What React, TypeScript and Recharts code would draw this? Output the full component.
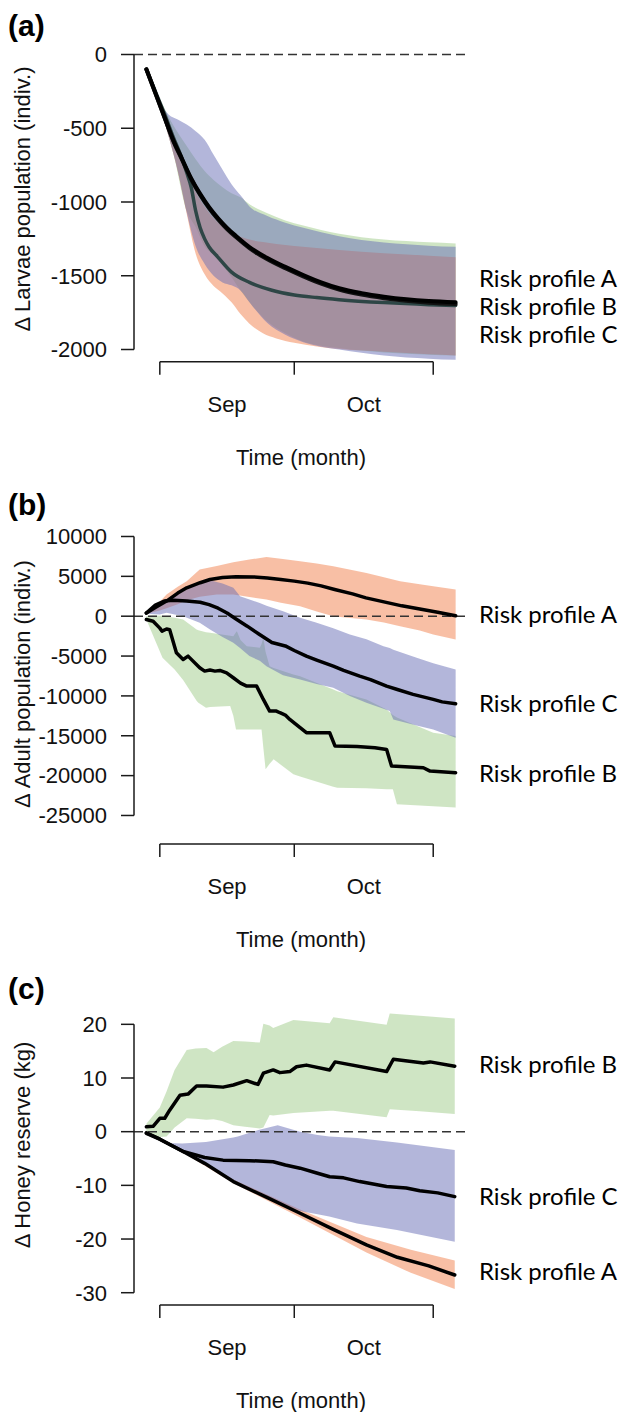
import { ComposedChart, Area, Line, XAxis, YAxis, ReferenceLine } from 'recharts';

// days counted from 1 September; ticks mark month boundaries, labels sit mid-month
const monthTicks = [0, 15, 30, 45.5, 61];
const monthLabels: Record<string, string> = { '15': 'Sep', '45.5': 'Oct' };
const monthEdges = [0, 30, 61];
const xDomain: [number, number] = [-5.76, 68.76];

const orange = '#F17F4B';
const green = '#9FCB89';
const blue = '#676DB5';

// (a) larvae: lines [day, value], bands [day, low, high]
const larvaeTicks = [-2000, -1500, -1000, -500, 0];
const larvaeLineA = [[-3, -100], [-1, -260], [1, -420], [3, -580], [5, -710], [7, -840], [9, -945], [11, -1035], [13, -1110], [15, -1175], [17, -1230], [20, -1305], [24, -1380], [28, -1440], [32, -1495], [36, -1545], [40, -1585], [45, -1618], [50, -1642], [55, -1660], [60, -1672], [66, -1680]];
const larvaeLineC = [[-3, -100], [-1, -262], [1, -424], [3, -586], [5, -716], [7, -846], [9, -952], [11, -1042], [13, -1118], [15, -1183], [17, -1238], [20, -1313], [24, -1389], [28, -1449], [32, -1504], [36, -1554], [40, -1594], [45, -1628], [50, -1652], [55, -1670], [60, -1683], [66, -1692]];
const larvaeLineB = [[-3, -100], [-1, -250], [1, -400], [3, -560], [5, -710], [6, -800], [7, -900], [8, -1060], [9, -1175], [10, -1250], [11, -1305], [13, -1375], [16, -1475], [20, -1545], [25, -1598], [30, -1630], [35, -1648], [40, -1662], [50, -1682], [60, -1696], [66, -1702]];
const larvaeBandA = [[-3, -100, -100], [0, -360, -345], [2, -560, -480], [4, -790, -640], [6, -1080, -790], [8, -1350, -930], [10, -1490, -1030], [12, -1570, -1110], [14, -1620, -1165], [16, -1680, -1205], [18, -1760, -1236], [20, -1825, -1255], [23, -1890, -1272], [26, -1925, -1285], [30, -1955, -1298], [35, -1980, -1312], [40, -1997, -1325], [50, -2015, -1347], [60, -2032, -1364], [66, -2040, -1375]];
const larvaeBandB = [[-3, -100, -100], [0, -360, -300], [3, -670, -480], [6, -1060, -620], [8, -1170, -710], [10, -1300, -790], [12, -1360, -850], [14, -1430, -900], [16, -1510, -940], [18, -1600, -968], [20, -1680, -1015], [24, -1810, -1077], [28, -1890, -1125], [32, -1945, -1160], [40, -1990, -1216], [50, -2020, -1255], [60, -2035, -1273], [66, -2040, -1281]];
const larvaeBandC = [[-3, -100, -100], [0, -360, -320], [2, -560, -408], [4, -790, -440], [6, -1070, -475], [8, -1300, -520], [10, -1420, -578], [12, -1500, -680], [14, -1545, -782], [16, -1565, -880], [18, -1600, -955], [20, -1680, -1030], [24, -1820, -1095], [28, -1900, -1140], [32, -1950, -1175], [40, -2000, -1232], [50, -2040, -1275], [60, -2062, -1296], [66, -2070, -1304]];

// (b) adults
const adultTicks = [-25000, -20000, -15000, -10000, -5000, 0, 5000, 10000];
const adultLineA = [[-3, 400], [-1, 1100], [1.5, 1900], [4, 2900], [6, 3560], [9, 4200], [11.2, 4600], [14, 4850], [17, 4950], [21, 4930], [24, 4800], [27, 4600], [30, 4400], [33, 4150], [36, 3800], [39, 3350], [43, 2800], [46, 2300], [50, 1800], [54, 1300], [58, 900], [62, 500], [66, 50]];
const adultLineC = [[-3, 400], [-1, 1400], [1, 1900], [3, 2000], [6, 1900], [9, 1750], [11, 1450], [13, 1000], [15, 400], [17, -350], [19.5, -1250], [22, -2200], [25, -3300], [28, -3730], [30, -4300], [32.7, -5010], [35, -5500], [38.7, -6270], [41, -6800], [44.6, -7520], [47, -7950], [50.6, -8770], [53, -9200], [56.5, -9810], [61, -10440], [63, -10750], [66, -10980]];
const adultLineB = [[-3, -420], [-1.5, -630], [0, -1500], [0.5, -1880], [1.5, -1600], [2.2, -1700], [3.7, -4590], [5.2, -5430], [6.3, -5010], [8.9, -6470], [10, -6890], [11.2, -6750], [12.3, -6890], [13.4, -6800], [14.9, -7100], [16.4, -7720], [18, -8400], [19.4, -8770], [21.6, -8770], [23.1, -10440], [24.5, -11900], [26, -11900], [26.8, -12110], [28, -12400], [29, -12950], [31.3, -13990], [32.7, -14620], [37.9, -14620], [39.1, -16290], [44, -16350], [48, -16500], [50.6, -16710], [51.7, -18800], [58.8, -19010], [60.3, -19430], [66, -19640]];
const adultBandA = [[-3, 300, 500], [0, 700, 1800], [1.5, 1000, 2720], [4, 1500, 3700], [6, 2000, 4390], [8.9, 2430, 5850], [12.7, 2720, 6300], [16.4, 2720, 6770], [20, 2400, 7100], [23.8, 2090, 7440], [27, 1700, 7200], [31.3, 1250, 6890], [35, 600, 6600], [38.7, 0, 6270], [42, -200, 5900], [46.1, -420, 5430], [50, -800, 4900], [53.6, -1250, 4390], [58, -1800, 4000], [61, -2300, 3760], [66, -2920, 3350]];
const adultBandB = [[-3, -400, 0], [-1.6, -2290, 100], [0.6, -5210, 50], [3.3, -6680, -200], [5.2, -8000, -420], [8.2, -10600, -1670], [8.6, -10860, -1750], [10.3, -11480, -2000], [11.2, -11400, -2090], [15.7, -11270, -2450], [16.4, -12500, -2500], [17, -14200, -2000], [17.2, -14200, -1880], [18, -14200, -3000], [19.4, -14200, -3760], [22.3, -14200, -3970], [22.7, -14200, -3500], [23.1, -16500, -2710], [23.6, -19210, -4500], [24.5, -18500, -6270], [25.4, -17960, -6500], [29.8, -19840, -7300], [31.3, -20100, -7520], [38.7, -21400, -9190], [39.6, -21510, -9400], [46.1, -21600, -10440], [50.6, -21700, -11700], [52, -21720, -12400], [52.9, -23600, -12700], [61, -23850, -14620], [66, -24010, -15040]];
const adultBandC = [[-3, 300, 500], [0, 200, 1500], [1.5, 420, 1900], [5.2, 0, 3100], [8.9, -830, 4200], [11.2, -1670, 4500], [14, -2600, 4100], [16.4, -3340, 3560], [17.9, -4000, 2510], [20, -5000, 2100], [22.3, -5600, 1670], [23.8, -6270, 1300], [27.5, -7400, 630], [31.3, -7930, -200], [35, -8500, -830], [38.7, -8980, -1500], [42.4, -10000, -2300], [46.1, -10860, -2900], [49.9, -11600, -3760], [51.3, -11900, -4000], [52.1, -12950, -4200], [57.3, -13700, -5220], [61, -14200, -5900], [66, -15240, -6680]];

// (c) honey
const honeyTicks = [-30, -20, -10, 0, 10, 20];
const honeyLineA = [[-3, -0.3], [0, -1.4], [5.2, -3.7], [10, -5.9], [16.4, -9.3], [24, -12.3], [31.3, -15.2], [38.7, -18.2], [46.1, -21.1], [53, -23.4], [60, -25.0], [65.8, -26.7]];
const honeyLineB = [[-3, 0.9], [-1.5, 1.0], [0, 2.5], [1.1, 2.5], [2.2, 4.0], [4.5, 6.8], [6.3, 7.0], [8.2, 8.5], [10.4, 8.5], [14.1, 8.3], [16.4, 8.7], [19.4, 9.5], [21.9, 8.8], [23.1, 10.9], [25.3, 11.5], [26.8, 11.0], [29, 11.2], [30.5, 12.1], [32.7, 12.4], [37.9, 11.5], [39.1, 13.0], [50.6, 11.2], [52.1, 13.5], [58.8, 12.8], [60.3, 13.0], [65.8, 12.2]];
const honeyLineC = [[-3, -0.2], [0, -1.4], [5.2, -3.7], [10, -4.8], [14.1, -5.3], [20, -5.4], [25.3, -5.6], [28, -6.2], [31.3, -6.8], [35, -7.7], [37.9, -8.4], [41, -8.6], [44.6, -9.3], [50.6, -10.2], [55, -10.5], [58, -11.0], [62, -11.4], [65.8, -12.1]];
const honeyBandA = [[-3, -0.3, -0.2], [5.2, -3.9, -3.5], [16.4, -9.6, -8.9], [31.3, -16.0, -14.5], [46.1, -22.5, -19.6], [56, -26.3, -22.0], [65.8, -29.3, -24.0]];
const honeyBandB = [[-3, -0.5, 1.5], [0, -1.0, 4.5], [1.5, -0.9, 7.5], [3.3, 0.8, 11.5], [6, 2.5, 15.2], [8, 2.4, 15.5], [10.4, 2.2, 15.6], [12, 2.3, 14.8], [13.9, 2.0, 15.8], [16.4, 1.2, 16.9], [19, 0.9, 16.8], [22.3, 0.6, 16.6], [23.1, 0.8, 20.1], [24.5, 3.1, 19.8], [25.3, 3.0, 19.3], [29.8, 3.5, 20.8], [37.9, 3.9, 20.2], [38.7, 3.9, 21.3], [50.6, 2.7, 19.9], [51.3, 4.2, 22.0], [58, 3.8, 21.6], [65.8, 3.3, 21.1]];
const honeyBandC = [[-3, -0.3, -0.2], [1.5, -2.0, -2.1], [5, -3.8, -2.2], [10.3, -6.0, -1.9], [16.4, -9.0, -1.1], [17.4, -9.4, -0.9], [22, -11.2, 0.3], [26.3, -13.0, 1.2], [31.3, -14.8, 0.0], [35.2, -15.4, -0.6], [37.8, -15.8, -0.9], [44, -17.1, -1.2], [52.9, -18.3, -2.0], [65.8, -20.5, -3.4]];

const toLine = (rows: number[][]) => rows.map(([d, v]) => ({ d, v }));
const toBand = (rows: number[][]) => rows.map(([d, lo, hi]) => ({ d, r: [lo, hi] }));

const ink = '#1a1a1a';

function MonthTick(props: any) {
  const { x, y, payload } = props;
  const label = monthLabels[String(payload.value)];
  if (label) {
    return (
      <text x={x} y={y + 50} textAnchor="middle" fontSize={22} fill="#111">
        {label}
      </text>
    );
  }
  return <line x1={x} x2={x} y1={y} y2={y + 13} stroke={ink} strokeWidth={1.5} />;
}

interface PanelProps {
  top: number;
  height: number;
  marginTop: number;
  axisH: number;
  yDomain: [number, number];
  yTicks: number[];
  bands: { rows: number[][]; color: string }[];
  lines: { rows: number[][]; color: string; width: number }[];
  curve: 'monotone' | 'linear';
}

function Panel({ top, height, marginTop, axisH, yDomain, yTicks, bands, lines, curve }: PanelProps) {
  return (
    <div style={{ position: 'absolute', left: 0, top }}>
      <ComposedChart width={618} height={height + 12} margin={{ top: marginTop, right: 150, bottom: 12, left: 0 }}>
        <XAxis
          type="number"
          dataKey="d"
          domain={xDomain}
          allowDataOverflow
          ticks={monthTicks}
          interval={0}
          height={axisH}
          tickSize={0}
          tickMargin={0}
          axisLine={false}
          tickLine={false}
          tick={(p: any) => <MonthTick {...p} />}
          label={{ value: 'Time (month)', position: 'insideBottom', offset: axisH - 103, fontSize: 22, fill: '#111' }}
        />
        <YAxis
          type="number"
          domain={yDomain}
          allowDataOverflow
          ticks={yTicks}
          interval={0}
          width={134}
          axisLine={false}
          tickSize={13}
          tickMargin={14}
          tickLine={{ stroke: ink, strokeWidth: 1.5 }}
          tick={{ fontSize: 22, fill: '#111' }}
        />
        {bands.map((b, i) => (
          <Area
            key={'band' + i}
            data={toBand(b.rows)}
            dataKey="r"
            type={curve}
            fill={b.color}
            fillOpacity={0.5}
            stroke="none"
            isAnimationActive={false}
          />
        ))}
        <ReferenceLine y={0} stroke="#333" strokeDasharray="9 5" strokeWidth={1.5} />
        <ReferenceLine
          segment={[{ x: xDomain[0], y: yTicks[0] }, { x: xDomain[0], y: yTicks[yTicks.length - 1] }]}
          stroke={ink}
          strokeWidth={1.5}
          ifOverflow="visible"
        />
        <ReferenceLine
          segment={[{ x: monthEdges[0], y: yDomain[0] }, { x: monthEdges[2], y: yDomain[0] }]}
          stroke={ink}
          strokeWidth={1.5}
          ifOverflow="visible"
        />
        {lines.map((l, i) => (
          <Line
            key={'line' + i}
            data={toLine(l.rows)}
            dataKey="v"
            type={curve}
            stroke={l.color}
            strokeWidth={l.width}
            strokeLinecap="round"
            strokeLinejoin="round"
            dot={false}
            isAnimationActive={false}
          />
        ))}
      </ComposedChart>
    </div>
  );
}

const riskFont = 'Lato, "Open Sans", sans-serif';

export default function App() {
  return (
    <div
      style={{
        position: 'absolute',
        left: 0,
        top: 0,
        width: 618,
        height: 1412,
        overflow: 'hidden',
        background: '#fff',
        fontFamily: '"Liberation Sans", Arial, sans-serif',
      }}
    >
      <Panel
        top={0}
        height={470}
        marginTop={40}
        axisH={108.3}
        yDomain={[-2082.7, 98.3]}
        yTicks={larvaeTicks}
        curve="monotone"
        bands={[
          { rows: larvaeBandB, color: green },
          { rows: larvaeBandA, color: orange },
          { rows: larvaeBandC, color: blue },
        ]}
        lines={[
          { rows: larvaeLineB, color: '#2E4646', width: 3.5 },
          { rows: larvaeLineC, color: '#111', width: 4 },
          { rows: larvaeLineA, color: '#000', width: 4 },
        ]}
      />
      <Panel
        top={470}
        height={480}
        marginTop={56}
        axisH={106}
        yDomain={[-28579, 11316]}
        yTicks={adultTicks}
        curve="linear"
        bands={[
          { rows: adultBandB, color: green },
          { rows: adultBandA, color: orange },
          { rows: adultBandC, color: blue },
        ]}
        lines={[
          { rows: adultLineA, color: '#000', width: 3.5 },
          { rows: adultLineB, color: '#000', width: 3.5 },
          { rows: adultLineC, color: '#000', width: 3.5 },
        ]}
      />
      <Panel
        top={950}
        height={462}
        marginTop={55}
        axisH={107}
        yDomain={[-32.29, 23.6]}
        yTicks={honeyTicks}
        curve="linear"
        bands={[
          { rows: honeyBandB, color: green },
          { rows: honeyBandA, color: orange },
          { rows: honeyBandC, color: blue },
        ]}
        lines={[
          { rows: honeyLineA, color: '#000', width: 3.5 },
          { rows: honeyLineB, color: '#000', width: 3.5 },
          { rows: honeyLineC, color: '#000', width: 3.5 },
        ]}
      />
      <svg
        width={618}
        height={1412}
        style={{ position: 'absolute', left: 0, top: 0, pointerEvents: 'none' }}
      >
        <g fontWeight="bold" fontSize={30} fill="#000">
          <text x={8} y={36}>(a)</text>
          <text x={8} y={515}>(b)</text>
          <text x={8} y={999}>(c)</text>
        </g>
        <g fontSize={22} fill="#111" textAnchor="middle" dominantBaseline="central">
          <text transform="translate(22,199) rotate(-90)">Δ Larvae population (indiv.)</text>
          <text transform="translate(22,684) rotate(-90)">Δ Adult population (indiv.)</text>
          <text transform="translate(22,1145) rotate(-90)">Δ Honey reserve (kg)</text>
        </g>
        <g fontSize={24} fill="#000" style={{ fontFamily: riskFont }}>
          <text x={479} y={287}>Risk profile A</text>
          <text x={479} y={315}>Risk profile B</text>
          <text x={479} y={343}>Risk profile C</text>
          <text x={479} y={623}>Risk profile A</text>
          <text x={479} y={712}>Risk profile C</text>
          <text x={479} y={782}>Risk profile B</text>
          <text x={479} y={1073}>Risk profile B</text>
          <text x={479} y={1205}>Risk profile C</text>
          <text x={479} y={1280}>Risk profile A</text>
        </g>
      </svg>
    </div>
  );
}
